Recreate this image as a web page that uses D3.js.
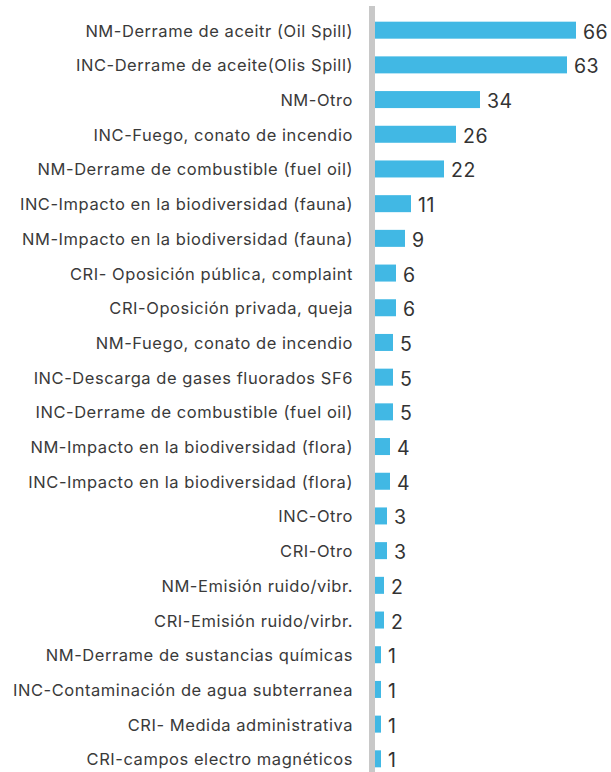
<!DOCTYPE html>
<html><head><meta charset="utf-8">
<script src="https://cdn.jsdelivr.net/npm/d3@7"></script>
<style>body{margin:0;background:#fff}</style>
</head><body><svg id="c" width="611" height="772"></svg>
<script>
const categories = [
"NM-Derrame de aceitr (Oil Spill)",
"INC-Derrame de aceite(Olis Spill)",
"NM-Otro",
"INC-Fuego, conato de incendio",
"NM-Derrame de combustible (fuel oil)",
"INC-Impacto en la biodiversidad (fauna)",
"NM-Impacto en la biodiversidad (fauna)",
"CRI- Oposición pública, complaint",
"CRI-Oposición privada, queja",
"NM-Fuego, conato de incendio",
"INC-Descarga de gases fluorados SF6",
"INC-Derrame de combustible (fuel oil)",
"NM-Impacto en la biodiversidad (flora)",
"INC-Impacto en la biodiversidad (flora)",
"INC-Otro",
"CRI-Otro",
"NM-Emisión ruido/vibr.",
"CRI-Emisión ruido/virbr.",
"NM-Derrame de sustancias químicas",
"INC-Contaminación de agua subterranea",
"CRI- Medida administrativa",
"CRI-campos electro magnéticos"];
const values = [66,63,34,26,22,11,9,6,6,5,5,5,4,4,3,3,2,2,1,1,1,1];

const svg = d3.select("#c");
const x = d3.scaleLinear().domain([0, 66]).range([378, 576]);
const y = d3.scaleBand().domain(categories).range([13, 776]).paddingInner(0.51).paddingOuter(0.25);

svg.append("g").selectAll("rect").data(values).join("rect")
  .attr("x", 375).attr("y", (d,i)=>y(categories[i]))
  .attr("width", d=>x(d)-375).attr("height", y.bandwidth())
  .attr("fill", "#41b8e4");

svg.append("rect").attr("x",369).attr("y",6).attr("width",6).attr("height",766).attr("fill","#c8c8c8");

svg.append("g").selectAll("text").data(categories).join("text")
  .attr("x", 353).attr("y", d=>y(d)+y.bandwidth()/2+0.5)
  .attr("text-anchor","end").attr("dominant-baseline","central")
  .attr("font-family","Inter, sans-serif").attr("font-size",16.5)
  .attr("letter-spacing",0.55).attr("fill","#3a3a3a")
  .text(d=>d);

svg.append("g").selectAll("text").data(values).join("text")
  .attr("x", d=>x(d)+7).attr("y", (d,i)=>y(categories[i])+y.bandwidth()/2+1.5)
  .attr("dominant-baseline","central")
  .attr("font-family","Inter, sans-serif").attr("font-size",19.5).attr("letter-spacing",0.5).attr("fill","#333")
  .text(d=>d);
</script></body></html>
